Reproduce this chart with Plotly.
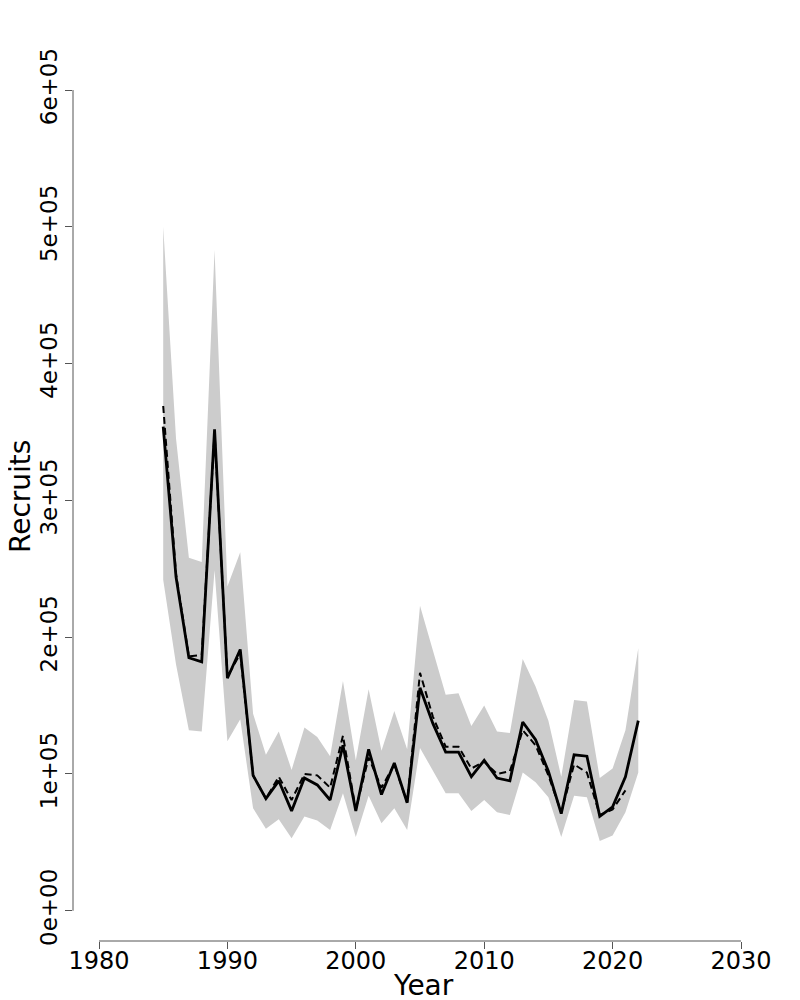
import plotly.graph_objects as go

years = list(range(1985, 2023))

recruits_est = [354, 244, 185, 182, 352, 170, 191, 99, 82, 95, 73, 97, 92, 81, 121, 73, 118, 85, 108, 79,
                163, 137, 116, 116, 98, 110, 97, 95, 138, 125, 102, 71, 114, 113, 69, 76, 98, 139]

recruits_prev = [369, 246, 186, 187, 350, 171, 188, 99, 82, 98, 81, 100, 99, 90, 128, 74, 112, 90, 107, 79,
                 174, 142, 120, 120, 104, 109, 100, 102, 132, 121, 99, 72, 107, 101, 70, 74, 88]

upper = [500, 345, 258, 255, 483, 237, 262, 144, 114, 131, 103, 134, 127, 113, 168, 110, 162, 117, 146, 118,
         223, 191, 158, 159, 135, 150, 131, 130, 184, 164, 139, 98, 154, 153, 97, 104, 132, 192]

lower = [242, 180, 132, 131, 249, 124, 140, 75, 60, 67, 53, 69, 66, 59, 86, 54, 84, 64, 75, 59,
         119, 102, 86, 86, 73, 81, 72, 70, 101, 94, 83, 54, 84, 83, 51, 55, 72, 101]

x_ticks = [1980, 1990, 2000, 2010, 2020, 2030]
y_ticks = [0, 100000, 200000, 300000, 400000, 500000, 600000]
y_tick_labels = ["0e+00", "1e+05", "2e+05", "3e+05", "4e+05", "5e+05", "6e+05"]

scale = 1000
years_prev = years[:len(recruits_prev)]

fig = go.Figure()

fig.add_trace(go.Scatter(
    x=years + years[::-1],
    y=[v * scale for v in upper] + [v * scale for v in lower[::-1]],
    fill="toself", fillcolor="#CCCCCC", line=dict(width=0), mode="lines",
    hoverinfo="skip", showlegend=False))

fig.add_trace(go.Scatter(
    x=years_prev, y=[v * scale for v in recruits_prev], mode="lines",
    line=dict(color="black", width=2, dash="7px,4px"), showlegend=False))

fig.add_trace(go.Scatter(
    x=years, y=[v * scale for v in recruits_est], mode="lines",
    line=dict(color="black", width=2.8), showlegend=False))

font_family = "DejaVu Sans"
axis_col = "#555555"

# page body has an 8px default margin; compensate so the screenshot matches
OFF = 8
W, H = 800, 1000
L, T = 73 - OFF, 90 - OFF
PW = 741 - 73
PH = 941 - 90
R = W - L - PW
B = H - T - PH


def px_x(px):
    return (px - OFF - L) / PW


def px_y(py):
    return (T + PH - (py - OFF)) / PH


fig.update_layout(
    width=W, height=H,
    margin=dict(l=L, r=R, t=T, b=B, autoexpand=False),
    plot_bgcolor="white", paper_bgcolor="white",
    font=dict(family=font_family, color="black"),
    xaxis=dict(range=[1977.975, 2030], tickvals=x_ticks, ticks="outside", ticklen=7,
               tickcolor=axis_col, tickwidth=1, showgrid=False, zeroline=False, showline=False,
               automargin=False, ticklabelstandoff=-9,
               tickfont=dict(size=24, family=font_family, color="black")),
    yaxis=dict(range=[-22090, 600000], tickvals=y_ticks, ticktext=y_tick_labels,
               ticks="outside", ticklen=7, tickcolor=axis_col, tickwidth=1,
               showgrid=False, zeroline=False, showline=False, tickangle=-90,
               automargin=False, ticklabelstandoff=-1,
               tickfont=dict(size=23, family=font_family, color="black")),
    shapes=[
        dict(type="line", xref="x", yref="paper", x0=1980, x1=2030, y0=0, y1=0,
             line=dict(color=axis_col, width=1)),
        dict(type="line", xref="paper", yref="y", x0=0, x1=0, y0=0, y1=600000,
             line=dict(color=axis_col, width=1)),
    ],
    annotations=[
        dict(text="Year", xref="paper", yref="paper", x=px_x(423), y=px_y(985),
             showarrow=False, font=dict(size=28, family=font_family, color="black"),
             xanchor="center", yanchor="middle"),
        dict(text="Recruits", xref="paper", yref="paper", x=px_x(20), y=px_y(497),
             showarrow=False, textangle=-90, font=dict(size=28, family=font_family, color="black"),
             xanchor="center", yanchor="middle"),
    ],
)

fig.write_html("out.html")
